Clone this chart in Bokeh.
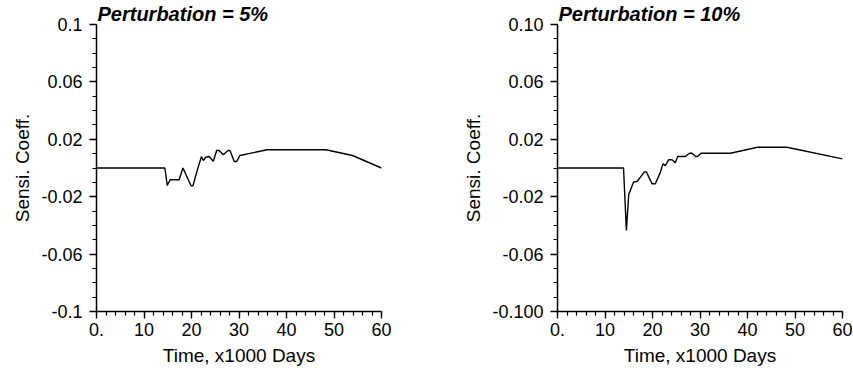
from bokeh.plotting import figure
from bokeh.layouts import row
from bokeh.models import FixedTicker, Range1d
from bokeh.embed import file_html
from bokeh.resources import INLINE

# ---- data ----
time_5 = [0, 14.4, 14.9, 15.5, 17.4, 18.2, 19.9, 20.3, 21.3, 22.1, 22.5, 23.0, 23.7,
          24.6, 25.3, 25.8, 26.7, 27.7, 28.1, 29.0, 29.5, 30.2, 35.9, 48.3, 53.9, 60]
coeff_5 = [0, 0, -0.0122, -0.0082, -0.0082, 0, -0.0124, -0.0124, -0.0006, 0.008, 0.0052,
           0.0075, 0.008, 0.0047, 0.0122, 0.0122, 0.0092, 0.0122, 0.0122, 0.0045, 0.0045,
           0.0087, 0.0127, 0.0127, 0.0087, 0]

time_10 = [0, 13.9, 14.5, 15.0, 16.0, 16.8, 18.3, 18.7, 19.9, 20.6, 21.6, 22.2, 22.7,
           23.4, 24.1, 24.8, 25.3, 26.9, 27.8, 28.3, 29.1, 29.5, 30.2, 36.4, 42.1, 48.3, 60]
coeff_10 = [0, 0, -0.0436, -0.0185, -0.0099, -0.0092, -0.0027, -0.0027, -0.011, -0.011,
            -0.0034, 0.0029, 0.0017, 0.0057, 0.0057, 0.0036, 0.008, 0.008, 0.0103, 0.0103,
            0.008, 0.008, 0.0103, 0.0103, 0.0145, 0.0145, 0.0064]

x_ticks = [0, 10, 20, 30, 40, 50, 60]
x_labels = ["0.", "10", "20", "30", "40", "50", "60"]
y_ticks = [-0.1, -0.06, -0.02, 0.02, 0.06, 0.1]
y_labels_5 = ["-0.1", "-0.06", "-0.02", "0.02", "0.06", "0.1"]
y_labels_10 = ["-0.100", "-0.06", "-0.02", "0.02", "0.06", "0.10"]
titles = ["Perturbation = 5%", "Perturbation = 10%"]

x_minor = [i * 2 for i in range(31)]
y_minor = [round(-0.1 + i * 0.01, 3) for i in range(21)]

FONT = "Liberation Sans"


def make(xs, ys, title, ylabels, left, right):
    p = figure(output_backend="svg", toolbar_location=None,
               frame_width=285, frame_height=287,
               min_border_left=left, min_border_right=right,
               min_border_top=24, min_border_bottom=40,
               x_range=Range1d(0, 60), y_range=Range1d(-0.1, 0.1),
               title=title)
    p.outline_line_color = None
    p.grid.visible = False
    p.background_fill_color = "white"
    p.border_fill_color = "white"
    p.line(xs, ys, line_color="black", line_width=1.4)

    p.title.text_font = FONT
    p.title.text_font_style = "bold italic"
    p.title.text_font_size = "20px"
    p.title.text_color = "black"
    p.title.align = "left"
    p.title.standoff = 0
    p.title.offset = 1

    for ax in (p.xaxis[0], p.yaxis[0]):
        ax.axis_line_color = "black"
        ax.axis_line_width = 1.5
        ax.major_tick_line_color = "black"
        ax.minor_tick_line_color = "black"
        ax.major_tick_line_width = 1.3
        ax.minor_tick_line_width = 1.2
        ax.major_tick_in = 0
        ax.minor_tick_in = 0
        ax.major_tick_out = 7
        ax.minor_tick_out = 4
        ax.major_label_text_font = FONT
        ax.major_label_text_font_size = "18px"
        ax.major_label_text_color = "black"
        ax.axis_label_text_font = FONT
        ax.axis_label_text_font_style = "normal"
        ax.axis_label_text_color = "black"

    p.xaxis[0].ticker = FixedTicker(ticks=x_ticks, minor_ticks=x_minor)
    p.xaxis[0].major_label_overrides = dict(zip(x_ticks, x_labels))
    p.xaxis[0].axis_label = "Time, x1000 Days"
    p.xaxis[0].axis_label_text_font_size = "19px"
    p.xaxis[0].major_label_standoff = 4
    p.xaxis[0].axis_label_standoff = 6

    p.yaxis[0].ticker = FixedTicker(ticks=y_ticks, minor_ticks=y_minor)
    p.yaxis[0].major_label_overrides = dict(zip(y_ticks, ylabels))
    p.yaxis[0].axis_label = "Sensi. Coeff."
    p.yaxis[0].axis_label_text_font_size = "19px"
    p.yaxis[0].major_label_standoff = 7
    p.yaxis[0].axis_label_standoff = 5
    return p


p1 = make(time_5, coeff_5, titles[0], y_labels_5, 96, 76)
p2 = make(time_10, coeff_10, titles[1], y_labels_10, 100, 10)
layout = row(p1, p2)

open("out.html", "w").write(file_html(layout, INLINE))
